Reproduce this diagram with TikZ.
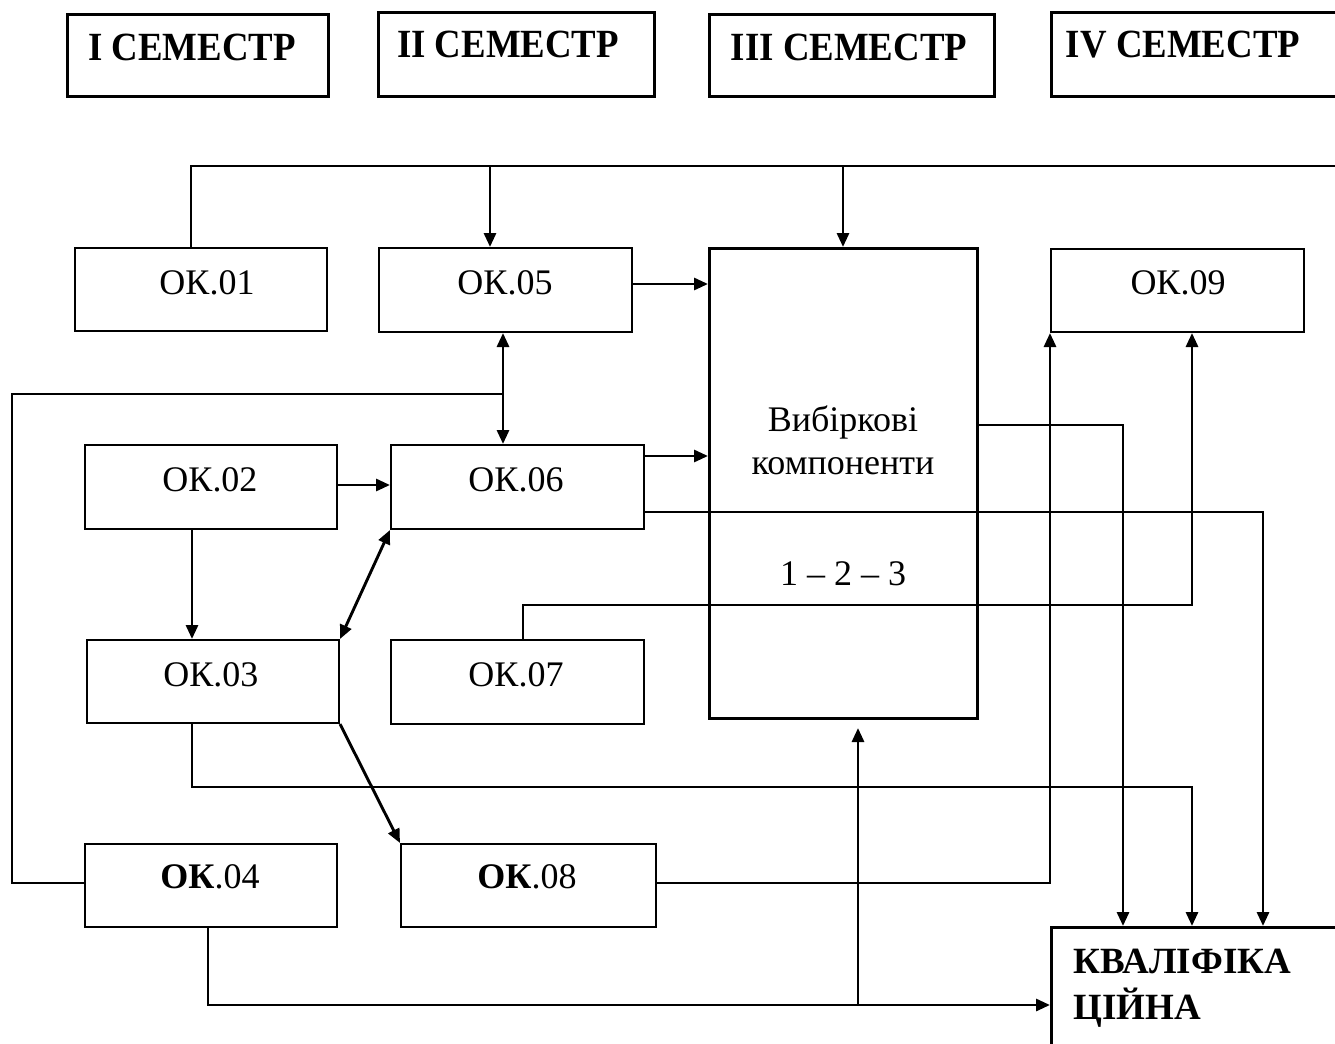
\documentclass[tikz,border=0pt]{standalone}
\usepackage{fontspec}
\setmainfont{Liberation Serif}
\usetikzlibrary{arrows.meta,calc}
\tikzset{
  okbox/.style={draw, line width=1pt, anchor=north west, inner sep=0pt},
  bigbox/.style={draw, line width=1.5pt, anchor=north west, inner sep=0pt},
  lbl/.style={anchor=base, inner sep=0pt, font=\fontsize{18}{21}\selectfont},
  lblw/.style={anchor=base west, inner sep=0pt, font=\fontsize{18.5}{21}\selectfont\bfseries},
  sem/.style={anchor=base, inner sep=0pt, font=\fontsize{20}{24}\selectfont\bfseries},
  con/.style={line width=1.45pt},
  arr/.style={con, -{Triangle[length=7pt,width=6pt]}},
  darr/.style={con, {Triangle[length=7pt,width=6pt]}-{Triangle[length=7pt,width=6pt]}},
}
\begin{document}
\begin{tikzpicture}[x=0.5pt,y=-0.5pt]
\useasboundingbox (0,0) rectangle (1335,1044);
\clip (0,0) rectangle (1335,1044);
\fill[white] (0,0) rectangle (1335,1044);

% semester boxes
\node[bigbox, minimum width=130.5pt, minimum height=41pt] (s1) at (66,13) {};
\node[bigbox, minimum width=138pt, minimum height=42pt] (s2) at (377,11) {};
\node[bigbox, minimum width=142.5pt, minimum height=41pt] (s3) at (708,13) {};
\node[bigbox, minimum width=147.5pt, minimum height=42pt] (s4) at (1050,11) {};
\node[sem] (s1t) at (192,61) {\scalebox{0.92}[1]{I СЕМЕСТР}};
\node[sem] (s2t) at (508,57) {\scalebox{0.92}[1]{II СЕМЕСТР}};
\node[sem] (s3t) at (849,61) {\scalebox{0.92}[1]{III СЕМЕСТР}};
\node[sem] (s4t) at (1183,57) {\scalebox{0.92}[1]{IV СЕМЕСТР}};

% component boxes
\node[okbox, minimum width=126pt, minimum height=41.5pt] (ok01) at (74,247) {};
\node[okbox, minimum width=126.5pt, minimum height=42pt] (ok05) at (378,247) {};
\node[bigbox, minimum width=134pt, minimum height=235pt] (vib) at (708,247) {};
\node[okbox, minimum width=126.5pt, minimum height=41.5pt] (ok09) at (1050,248) {};
\node[okbox, minimum width=126pt, minimum height=42pt] (ok02) at (84,444) {};
\node[okbox, minimum width=126.5pt, minimum height=42pt] (ok06) at (390,444) {};
\node[okbox, minimum width=126pt, minimum height=41.5pt] (ok03) at (86,639) {};
\node[okbox, minimum width=126.5pt, minimum height=42pt] (ok07) at (390,639) {};
\node[okbox, minimum width=126pt, minimum height=41.5pt] (ok04) at (84,843) {};
\node[okbox, minimum width=127.5pt, minimum height=41.5pt] (ok08) at (400,843) {};
\node[bigbox, minimum width=155pt, minimum height=77pt] (kv) at (1050,926) {};

% labels
\node[lbl] (t01) at (207,294) {ОК.01};
\node[lbl] (t05) at (505,294) {ОК.05};
\node[lbl] (t09) at (1178,294) {ОК.09};
\node[lbl] (t02) at (210,491) {ОК.02};
\node[lbl] (t06) at (516,491) {ОК.06};
\node[lbl] (t03) at (211,686) {ОК.03};
\node[lbl] (t07) at (516,686) {ОК.07};
\node[lbl] (t04) at (210,888) {{\bfseries ОК}.04};
\node[lbl] (t08) at (527,888) {{\bfseries ОК}.08};
\node[lbl] (tv1) at (843,431) {Вибіркові};
\node[lbl] (tv2) at (843,474) {компоненти};
\node[lbl] (tv3) at (843,585) {1 – 2 – 3};
\node[lblw] (tk1) at (1073,973) {КВАЛІФІКА};
\node[lblw] (tk2) at (1073,1019) {ЦІЙНА};

% helper coordinates
\coordinate (busL) at (191,166);
\coordinate (busR) at (1345,166);
\coordinate (b05) at (490,166);
\coordinate (bv) at (843,166);
\coordinate (loopT) at (12,394);
\coordinate (loopB) at (12,883);
\coordinate (j56) at (503,394);
\coordinate (h284) at (0,284);
\coordinate (h456) at (0,456);
\coordinate (h485) at (0,485);
\coordinate (r6) at (1263,512);
\coordinate (rv) at (1123,425);
\coordinate (r7a) at (523,605);
\coordinate (r7b) at (1192,605);
\coordinate (r3a) at (192,787);
\coordinate (r3b) at (1192,787);
\coordinate (r8) at (1050,883);
\coordinate (r4a) at (208,1005);
\coordinate (jb) at (858,1005);

% connectors
\draw[con] (ok01.north -| busL) -- (busL) -- (busR);
\draw[arr] (b05) -- (b05 |- ok05.north);
\draw[arr] (bv) -- (bv |- vib.north);
\draw[arr] (ok05.east |- h284) -- (vib.west |- h284);
\draw[darr] (ok05.south -| j56) -- (ok06.north -| j56);
\draw[con] (ok04.west |- loopB) -- (loopB) -- (loopT) -- (j56);
\draw[arr] (ok02.east |- h485) -- (ok06.west |- h485);
\draw[arr] (ok02.south -| r3a) -- (ok03.north -| r3a);
\draw[darr] (ok06.south west) -- (ok03.north east);
\draw[arr] (ok06.east |- h456) -- (vib.west |- h456);
\draw[arr] (ok06.east |- r6) -- (r6) -- (r6 |- kv.north);
\draw[arr] (vib.east |- rv) -- (rv) -- (rv |- kv.north);
\draw[arr] (ok07.north -| r7a) -- (r7a) -- (r7b) -- (r7b |- ok09.south);
\draw[arr] (ok03.south -| r3a) -- (r3a) -- (r3b) -- (r3b |- kv.north);
\draw[arr] (ok03.south east) -- (ok08.north west);
\draw[arr] (ok08.east |- r8) -- (r8) -- (ok09.south west);
\draw[arr] (ok04.south -| r4a) -- (r4a) -- (kv.west |- r4a);
\draw[arr, shorten >=4pt] (jb) -- (jb |- vib.south);
\end{tikzpicture}
\end{document}
